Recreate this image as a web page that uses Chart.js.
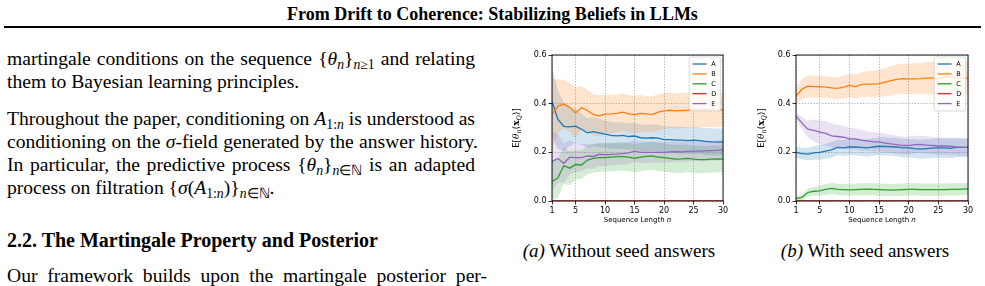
<!DOCTYPE html>
<html>
<head>
<meta charset="utf-8">
<script src="https://cdn.jsdelivr.net/npm/chart.js@4.4.1/dist/chart.umd.min.js"></script>
<style>
html, body { margin: 0; padding: 0; background: #fff; }
body { width: 985px; height: 286px; position: relative; overflow: hidden; font-family: "Liberation Serif", "Times New Roman", serif; color: #000; }
.title { position: absolute; left: 0; top: 4px; width: 985px; text-align: center; font-weight: bold; font-size: 18px; line-height: 20px; }
.rule { position: absolute; left: 4px; top: 26px; width: 977px; height: 2px; background: #000; }
.ln { position: absolute; left: 7px; font-size: 19.6px; line-height: 22px; white-space: nowrap; }
.jl { white-space: normal; text-align: justify; text-align-last: justify; }
.ln i, .cap i { font-style: italic; }
sub { font-size: 70%; vertical-align: -0.3em; line-height: 0; }
.head { font-weight: bold; font-size: 20px; }
.cap { position: absolute; font-size: 19px; line-height: 22px; text-align: center; white-space: nowrap; }
canvas { position: absolute; }
</style>
</head>
<body>
<div class="title">From Drift to Coherence: Stabilizing Beliefs in LLMs</div>
<div class="rule"></div>

<div class="ln jl" style="top:48px;width:468px">martingale conditions on the sequence {<i>θ<sub>n</sub></i>}<sub><i>n</i>≥1</sub> and relating</div>
<div class="ln" style="top:71px">them to Bayesian learning principles.</div>
<div class="ln jl" style="top:108px;width:468px">Throughout the paper, conditioning on <i>A</i><sub>1:<i>n</i></sub> is understood as</div>
<div class="ln jl" style="top:131px;width:471px">conditioning on the <i>σ</i>-field generated by the answer history.</div>
<div class="ln jl" style="top:154px;width:468px">In particular, the predictive process {<i>θ<sub>n</sub></i>}<sub><i>n</i>∈ℕ</sub> is an adapted</div>
<div class="ln" style="top:177px">process on filtration {<i>σ</i>(<i>A</i><sub>1:<i>n</i></sub>)}<sub><i>n</i>∈ℕ</sub>.</div>
<div class="ln head" style="top:229px">2.2. The Martingale Property and Posterior</div>
<div class="ln jl" style="top:265px;width:480px">Our framework builds upon the martingale posterior per-</div>

<canvas id="chartA" width="240" height="190" style="left:500px;top:40px"></canvas>
<canvas id="chartB" width="240" height="190" style="left:745px;top:40px"></canvas>

<div class="cap" style="left:519px;top:240px;width:200px"><i>(a)</i> Without seed answers</div>
<div class="cap" style="left:765px;top:240px;width:200px"><i>(b)</i> With seed answers</div>

<script>
const seqLen = [1, 2, 3, 4, 5, 6, 7, 8, 9, 10, 11, 12, 13, 14, 15, 16, 17, 18, 19, 20, 21, 22, 23, 24, 25, 26, 27, 28, 29, 30];
const xTickValues = [1, 5, 10, 15, 20, 25, 30];
const yTickValues = [0, 0.2, 0.4, 0.6];
const answerLabels = ["A", "B", "C", "D", "E"];

// (a) without seed answers: mean and half-width of band
const noSeedA = [0.41, 0.335, 0.307, 0.305, 0.308, 0.295, 0.28, 0.285, 0.28, 0.275, 0.27, 0.268, 0.27, 0.265, 0.267, 0.26, 0.258, 0.26, 0.258, 0.252, 0.252, 0.25, 0.25, 0.248, 0.25, 0.248, 0.245, 0.243, 0.242, 0.242];
const noSeedB = [0.355, 0.39, 0.398, 0.385, 0.362, 0.383, 0.372, 0.355, 0.35, 0.357, 0.358, 0.36, 0.365, 0.358, 0.355, 0.36, 0.358, 0.355, 0.365, 0.37, 0.373, 0.37, 0.372, 0.373, 0.375, 0.373, 0.375, 0.375, 0.373, 0.375];
const noSeedC = [0.08, 0.095, 0.145, 0.135, 0.15, 0.148, 0.168, 0.175, 0.178, 0.178, 0.18, 0.182, 0.182, 0.18, 0.175, 0.18, 0.183, 0.185, 0.18, 0.178, 0.175, 0.172, 0.173, 0.175, 0.172, 0.17, 0.17, 0.172, 0.173, 0.172];
const noSeedD = [0, 0, 0, 0, 0, 0, 0, 0, 0, 0, 0, 0, 0, 0, 0, 0, 0, 0, 0, 0, 0, 0, 0, 0, 0, 0, 0, 0, 0, 0];
const noSeedE = [0.162, 0.175, 0.155, 0.18, 0.178, 0.178, 0.185, 0.183, 0.192, 0.19, 0.192, 0.193, 0.195, 0.198, 0.205, 0.2, 0.2, 0.2, 0.2, 0.2, 0.202, 0.203, 0.202, 0.204, 0.205, 0.205, 0.206, 0.207, 0.208, 0.21];
const noSeedSpreadA = [0.14, 0.12, 0.1, 0.08, 0.07, 0.065, 0.06, 0.06, 0.058, 0.056, 0.055, 0.055, 0.055, 0.055, 0.055, 0.055, 0.055, 0.055, 0.055, 0.055, 0.055, 0.055, 0.055, 0.055, 0.055, 0.055, 0.055, 0.056, 0.056, 0.056];
const noSeedSpreadB = [0.145, 0.11, 0.1, 0.1, 0.105, 0.09, 0.085, 0.085, 0.085, 0.08, 0.08, 0.078, 0.078, 0.077, 0.077, 0.076, 0.075, 0.075, 0.075, 0.074, 0.073, 0.073, 0.072, 0.072, 0.072, 0.071, 0.071, 0.071, 0.07, 0.07];
const noSeedSpreadC = [0.08, 0.08, 0.075, 0.07, 0.06, 0.058, 0.058, 0.058, 0.058, 0.058, 0.058, 0.058, 0.058, 0.058, 0.058, 0.058, 0.058, 0.058, 0.058, 0.058, 0.058, 0.058, 0.058, 0.056, 0.056, 0.056, 0.055, 0.055, 0.055, 0.055];
const noSeedSpreadD = [0, 0, 0, 0, 0, 0, 0, 0, 0, 0, 0, 0, 0, 0, 0, 0, 0, 0, 0, 0, 0, 0, 0, 0, 0, 0, 0, 0, 0, 0];
const noSeedSpreadE = [0.12, 0.1, 0.08, 0.07, 0.06, 0.055, 0.05, 0.05, 0.048, 0.047, 0.046, 0.045, 0.045, 0.045, 0.044, 0.044, 0.044, 0.043, 0.043, 0.043, 0.043, 0.042, 0.042, 0.042, 0.042, 0.042, 0.042, 0.042, 0.042, 0.042];

// (b) with seed answers
const seedA = [0.2, 0.195, 0.193, 0.198, 0.2, 0.205, 0.21, 0.22, 0.218, 0.222, 0.222, 0.22, 0.218, 0.222, 0.225, 0.224, 0.223, 0.222, 0.218, 0.218, 0.215, 0.213, 0.215, 0.217, 0.218, 0.218, 0.216, 0.22, 0.22, 0.22];
const seedB = [0.43, 0.46, 0.472, 0.47, 0.47, 0.468, 0.465, 0.463, 0.468, 0.475, 0.47, 0.478, 0.48, 0.48, 0.482, 0.488, 0.495, 0.5, 0.503, 0.502, 0.502, 0.503, 0.505, 0.505, 0.502, 0.51, 0.51, 0.507, 0.505, 0.505];
const seedC = [0.01, 0.015, 0.035, 0.04, 0.042, 0.048, 0.052, 0.048, 0.047, 0.046, 0.047, 0.048, 0.049, 0.048, 0.047, 0.046, 0.045, 0.046, 0.047, 0.048, 0.048, 0.047, 0.047, 0.047, 0.047, 0.047, 0.048, 0.048, 0.049, 0.05];
const seedD = [0, 0, 0, 0, 0, 0, 0, 0, 0, 0, 0, 0, 0, 0, 0, 0, 0, 0, 0, 0, 0, 0, 0, 0, 0, 0, 0, 0, 0, 0];
const seedE = [0.35, 0.32, 0.295, 0.29, 0.283, 0.278, 0.268, 0.265, 0.262, 0.255, 0.255, 0.25, 0.247, 0.243, 0.243, 0.238, 0.235, 0.232, 0.228, 0.228, 0.232, 0.233, 0.23, 0.228, 0.226, 0.226, 0.225, 0.222, 0.22, 0.22];
const seedSpreadA = [0.022, 0.024, 0.026, 0.028, 0.03, 0.03, 0.032, 0.032, 0.033, 0.034, 0.034, 0.035, 0.035, 0.036, 0.036, 0.037, 0.037, 0.038, 0.038, 0.038, 0.038, 0.039, 0.039, 0.039, 0.04, 0.04, 0.04, 0.04, 0.04, 0.04];
const seedSpreadB = [0.035, 0.04, 0.045, 0.045, 0.045, 0.045, 0.045, 0.046, 0.047, 0.048, 0.05, 0.052, 0.053, 0.055, 0.056, 0.058, 0.06, 0.061, 0.062, 0.063, 0.064, 0.065, 0.066, 0.067, 0.068, 0.068, 0.069, 0.07, 0.07, 0.07];
const seedSpreadC = [0.01, 0.012, 0.015, 0.018, 0.02, 0.022, 0.023, 0.023, 0.024, 0.024, 0.024, 0.025, 0.025, 0.025, 0.025, 0.025, 0.025, 0.025, 0.025, 0.025, 0.025, 0.025, 0.025, 0.025, 0.025, 0.025, 0.025, 0.025, 0.025, 0.025];
const seedSpreadD = [0, 0, 0, 0, 0, 0, 0, 0, 0, 0, 0, 0, 0, 0, 0, 0, 0, 0, 0, 0, 0, 0, 0, 0, 0, 0, 0, 0, 0, 0];
const seedSpreadE = [0.015, 0.025, 0.035, 0.045, 0.05, 0.05, 0.05, 0.048, 0.046, 0.045, 0.044, 0.042, 0.04, 0.04, 0.038, 0.038, 0.037, 0.037, 0.036, 0.036, 0.036, 0.035, 0.035, 0.035, 0.035, 0.035, 0.035, 0.035, 0.035, 0.035];

const palette = ["#1f77b4", "#ff7f0e", "#2ca02c", "#d62728", "#9467bd"];

function withAlpha(hex, a) {
	const r = parseInt(hex.slice(1, 3), 16);
	const g = parseInt(hex.slice(3, 5), 16);
	const b = parseInt(hex.slice(5, 7), 16);
	return `rgba(${r},${g},${b},${a})`;
}

function buildDatasets(means, spreads) {
	const sets = [];
	means.forEach((m, s) => {
		// upper edge fills down to the lower edge pushed right after it
		sets.push({
			label: answerLabels[s] + " upper",
			data: seqLen.map((n, i) => ({ x: n, y: m[i] + spreads[s][i] })),
			borderWidth: 0,
			pointRadius: 0,
			fill: "+1",
			backgroundColor: withAlpha(palette[s], 0.2),
			order: 20 - s,
			band: true,
		});
		sets.push({
			label: answerLabels[s] + " lower",
			data: seqLen.map((n, i) => ({ x: n, y: m[i] - spreads[s][i] })),
			borderWidth: 0,
			pointRadius: 0,
			fill: false,
			order: 20 - s,
			band: true,
		});
	});
	means.forEach((m, s) => {
		sets.push({
			label: answerLabels[s],
			data: seqLen.map((n, i) => ({ x: n, y: m[i] })),
			borderColor: palette[s],
			borderWidth: 1.3,
			pointRadius: 0,
			fill: false,
			tension: 0,
			order: 10 - s,
		});
	});
	return sets;
}

function drawRuns(ctx, runs, cx, cy) {
	let total = 0;
	runs.forEach((r) => {
		ctx.font = r.font;
		r.w = ctx.measureText(r.t).width;
		total += r.w;
	});
	let x = cx - total / 2;
	runs.forEach((r) => {
		ctx.font = r.font;
		ctx.fillText(r.t, x, cy + (r.dy || 0));
		x += r.w;
	});
}

const framePlugin = {
	id: "frame",
	afterDatasetsDraw(chart) {
		const { ctx, chartArea: a } = chart;
		ctx.save();
		ctx.strokeStyle = "#000";
		ctx.lineWidth = 0.9;
		ctx.strokeRect(a.left, a.top, a.right - a.left, a.bottom - a.top);
		ctx.restore();
	},
};

const innerLegend = {
	id: "innerLegend",
	afterDraw(chart) {
		const { ctx, chartArea: a } = chart;
		const items = chart.data.datasets.filter((d) => !d.band);
		const w = 31.5, rowH = 9.9, h = 54;
		const x0 = a.right - w - 2.3, y0 = a.top + 2;
		ctx.save();
		ctx.beginPath();
		ctx.roundRect(x0, y0, w, h, 2);
		ctx.fillStyle = "rgba(255,255,255,0.8)";
		ctx.fill();
		ctx.strokeStyle = "#d0d0d0";
		ctx.lineWidth = 0.8;
		ctx.stroke();
		ctx.font = "6.5px 'DejaVu Sans'";
		ctx.textBaseline = "middle";
		items.forEach((d, i) => {
			const cy = y0 + 7 + i * rowH;
			ctx.strokeStyle = d.borderColor;
			ctx.lineWidth = 1.3;
			ctx.beginPath();
			ctx.moveTo(x0 + 3.4, cy);
			ctx.lineTo(x0 + 17.4, cy);
			ctx.stroke();
			ctx.fillStyle = "#000";
			ctx.fillText(d.label, x0 + 22, cy + 0.3);
		});
		ctx.restore();
	},
};

const axisTitles = {
	id: "axisTitles",
	afterDraw(chart) {
		const { ctx, chartArea: a } = chart;
		ctx.save();
		ctx.fillStyle = "#000";
		ctx.textBaseline = "middle";
		drawRuns(ctx, [
			{ t: "Sequence Length ", font: "7px 'DejaVu Sans'" },
			{ t: "n", font: "italic 7px 'DejaVu Sans'" },
		], (a.left + a.right) / 2, 180.5);
		ctx.translate(17, (a.top + a.bottom) / 2);
		ctx.rotate(-Math.PI / 2);
		drawRuns(ctx, [
			{ t: "E", font: "8.5px 'DejaVu Sans'" },
			{ t: "[", font: "9px 'DejaVu Serif'" },
			{ t: "θ", font: "italic 9px 'DejaVu Serif'" },
			{ t: "n", font: "italic 6.5px 'DejaVu Serif'", dy: 2 },
			{ t: "(", font: "9px 'DejaVu Serif'" },
			{ t: "x", font: "bold 9px 'DejaVu Serif'" },
			{ t: "Q", font: "italic 6.5px 'DejaVu Serif'", dy: 2 },
			{ t: ")]", font: "9px 'DejaVu Serif'" },
		], 0, 0);
		ctx.restore();
	},
};

function makeChart(id, means, spreads, axisWidth) {
	return new Chart(document.getElementById(id), {
		type: "line",
		data: { datasets: buildDatasets(means, spreads) },
		options: {
			responsive: false,
			animation: false,
			devicePixelRatio: 1,
			layout: { padding: { top: 15, right: 17, left: 0, bottom: 0 } },
			plugins: { legend: { display: false }, tooltip: { enabled: false } },
			scales: {
				x: {
					type: "linear",
					min: 1,
					max: 30,
					afterBuildTicks: (sc) => { sc.ticks = xTickValues.map((v) => ({ value: v })); },
					afterFit: (sc) => { sc.height = 29; },
					grid: { color: "rgba(0,0,0,0.38)", lineWidth: 0.8, tickColor: "#000", tickLength: 3.5, tickWidth: 0.8 },
					border: { display: false, dash: [1.3, 1.6] },
					ticks: { font: { family: "DejaVu Sans", size: 8 }, color: "#000", padding: 1.5, maxRotation: 0, autoSkip: false, callback: (v) => String(v) },
				},
				y: {
					min: 0,
					max: 0.6,
					afterBuildTicks: (sc) => { sc.ticks = yTickValues.map((v) => ({ value: v })); },
					afterFit: (sc) => { sc.width = axisWidth; },
					grid: { color: "rgba(0,0,0,0.38)", lineWidth: 0.8, tickColor: "#000", tickLength: 3.5, tickWidth: 0.8 },
					border: { display: false, dash: [1.3, 1.6] },
					ticks: { font: { family: "DejaVu Sans", size: 8 }, color: "#000", padding: 2, callback: (v) => v.toFixed(1) },
				},
			},
		},
		plugins: [framePlugin, innerLegend, axisTitles],
	});
}

makeChart("chartA",
	[noSeedA, noSeedB, noSeedC, noSeedD, noSeedE],
	[noSeedSpreadA, noSeedSpreadB, noSeedSpreadC, noSeedSpreadD, noSeedSpreadE], 52);
makeChart("chartB",
	[seedA, seedB, seedC, seedD, seedE],
	[seedSpreadA, seedSpreadB, seedSpreadC, seedSpreadD, seedSpreadE], 51);
</script>
</body>
</html>
